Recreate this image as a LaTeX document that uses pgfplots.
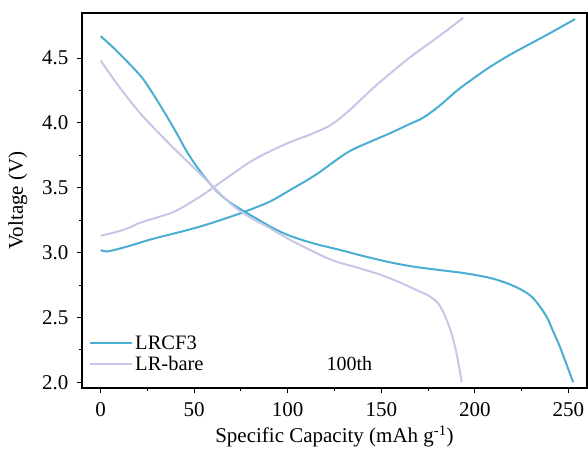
\documentclass[border=0pt]{standalone}
\usepackage{fontspec}
\setmainfont{Liberation Serif}
\usepackage{pgfplots}
\pgfplotsset{compat=1.18}
\definecolor{lrcf}{HTML}{4AADD2}
\definecolor{lrbare}{HTML}{C6C6E6}
\begin{document}
\begin{tikzpicture}
\begin{axis}[
  name=ax,
  scale only axis,
  width=505bp, height=375bp,
  xmin=-10, xmax=260,
  ymin=1.956, ymax=4.847,
  xtick={0,50,100,150,200,250},
  ytick={2.0,2.5,3.0,3.5,4.0,4.5},
  yticklabel style={xshift=-5bp, /pgf/number format/fixed, /pgf/number format/fixed zerofill, /pgf/number format/precision=1},
  minor x tick num=1, minor y tick num=1,
  tick pos=left, tick align=outside,
  major tick length=5bp, minor tick length=3bp,
  every tick/.style={black, line width=1pt},
  axis line style={line width=1.2pt},
  /pgf/number format/assume math mode=true,
  font=\fontsize{21bp}{24bp}\selectfont,
  ticklabel style={font=\fontsize{21bp}{24bp}\selectfont},
  xticklabel style={yshift=-6bp},
  xlabel={Specific Capacity (mAh g\textsuperscript{-1})},
  ylabel={Voltage (V)},
  xlabel style={yshift=-2bp},
  ylabel style={yshift=8bp},
  legend style={draw=none, fill=none, at={(0.012,0.035)}, anchor=south west,
    font=\fontsize{20.5bp}{22bp}\selectfont, row sep=1bp, inner sep=1bp},
  legend cell align=left,
  legend image code/.code={\draw[#1] (0bp,0bp) -- (42bp,0bp);},
  clip=false,
]
% LRCF3 charge
\addplot[lrcf, line width=2pt, smooth, tension=0.55, forget plot] coordinates {
(0,3.02) (4,3.01) (15,3.05) (26.4,3.10) (40,3.15) (53,3.20) (65,3.255) (76,3.31)
(90,3.39) (101,3.48) (115,3.60) (131.7,3.77) (145,3.86) (154.7,3.92) (165,3.99)
(172.4,4.04) (181,4.13) (190.6,4.25) (200,4.35) (208,4.43) (217,4.51) (225.8,4.58)
(240,4.69) (253.6,4.80)};
% LRCF3 discharge
\addplot[lrcf, line width=2pt, smooth, tension=0.55] coordinates {
(0,4.668) (6,4.59) (13,4.49) (22,4.35) (29,4.20) (35.4,4.05) (41,3.91) (46,3.78)
(51,3.67) (56.8,3.56) (63,3.46) (70.8,3.37) (83.5,3.26) (92,3.19) (101,3.13)
(114,3.07) (128,3.02) (140,2.975) (154.7,2.925) (168,2.89) (181.4,2.865) (195,2.84)
(208,2.805) (217,2.765) (224,2.72) (229.6,2.67) (234,2.60) (238.6,2.50) (242,2.39)
(245.6,2.27) (249,2.14) (252.6,2.0)};
% LR-bare charge
\addplot[lrbare, line width=2pt, smooth, tension=0.55, forget plot] coordinates {
(0,3.13) (8.6,3.16) (15,3.19) (21,3.23) (30,3.27) (40,3.32) (53,3.43) (62,3.52)
(70.8,3.61) (80,3.70) (89,3.77) (101,3.85) (112,3.91) (122.6,3.98) (130,4.06)
(137,4.15) (145,4.26) (154.7,4.38) (164,4.49) (172.4,4.58) (183,4.69) (193.8,4.81)};
% LR-bare discharge
\addplot[lrbare, line width=2pt, smooth, tension=0.55] coordinates {
(0,4.48) (10.3,4.27) (22.6,4.05) (38.7,3.81) (53,3.61) (62,3.48)
(70.8,3.36) (80,3.27) (89,3.20) (101,3.10) (112,3.02)
(124,2.94) (137,2.885) (149.4,2.83) (160,2.77) (169,2.71) (175,2.67) (179.7,2.62)
(182.5,2.56) (185,2.48) (187.5,2.38) (189.5,2.27) (191.5,2.13) (193,2.0)};
\legend{LRCF3, LR-bare}
\node[anchor=center, font=\fontsize{20bp}{22bp}\selectfont] at (axis cs:133,2.14) {100th};
\end{axis}
\path (ax.south west) +(-82bp,-66bp) (ax.north east) +(1bp,13bp);
\end{tikzpicture}
\end{document}
